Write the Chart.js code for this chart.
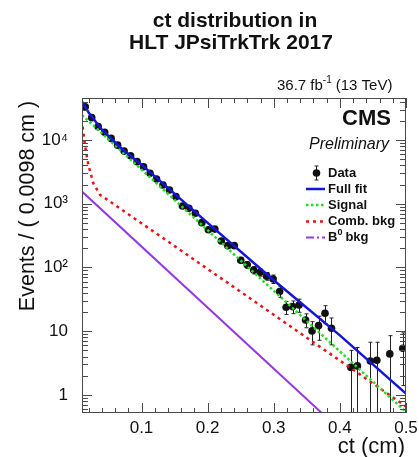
<!DOCTYPE html>
<html>
<head>
<meta charset="utf-8">
<script src="https://cdn.jsdelivr.net/npm/chart.js@4.4.0/dist/chart.umd.min.js"></script>
<style>
  html, body { margin: 0; padding: 0; background: #fff; }
  #wrap { width: 419px; height: 457px; }
</style>
</head>
<body>
<div id="wrap"><canvas id="ctChart" width="419" height="457"></canvas></div>
<script>
// bin centres (50 bins of 0.0098 cm from 0.01 to 0.5)
const binCenters = [0.0149, 0.0247, 0.0345, 0.0443, 0.0541, 0.0639, 0.0737, 0.0835, 0.0933, 0.1031,
    0.1129, 0.1227, 0.1325, 0.1423, 0.1521, 0.1619, 0.1717, 0.1815, 0.1913, 0.2011,
    0.2109, 0.2207, 0.2305, 0.2403, 0.2501, 0.2599, 0.2697, 0.2795, 0.2893, 0.2991,
    0.3089, 0.3187, 0.3285, 0.3383, 0.3481, 0.3579, 0.3677, 0.3775, 0.3873, 0.3971,
    0.4069, 0.4167, 0.4265, 0.4363, 0.4461, 0.4559, 0.4657, 0.4755, 0.4853, 0.4951];
const dataEvents = [33300, 22400, 16200, 13200, 10600, 8300, 6700, 5670, 4570, 3810,
    3000, 2440, 1970, 1640, 1290, 920, 850, 710, 505, 390,
    400, 260, 220, 220, 130, 110, 91, 84, 73, 66,
    42, 23.8, 24.3, 25.8, 15, 10.1, 12.2, 19.1, 11.1, null,
    null, 2.7, 2.85, null, 3.4, 3.5, null, 4.4, null, 5.4];
const dataErrors = [220, 180, 150, 140, 125, 110, 100, 90, 80, 75,
    65, 60, 55, 50, 45, 37, 35, 32, 27, 24,
    24, 20, 18, 18, 14, 13, 12, 11, 10, 10,
    8, 5.5, 5.5, 6, 3.7, 4, 5, 6, 5, 0,
    0, 2.3, 2.7, 0, 3.3, 3.2, 0, 4.1, 0, 4];

// fit components
const fullFitX = [0.01, 0.02, 0.04, 0.07, 0.1, 0.2, 0.3, 0.4, 0.5];
const fullFitY = [40000, 27000, 14500, 7300, 4100, 500, 63, 8.6, 1.05];
const signalX = [0.01, 0.5];
const signalY = [24600, 0.54];
const combX = [0.011, 0.0145, 0.0195, 0.0271, 0.0372, 0.0524, 0.1507, 0.5];
const combY = [16200, 8300, 4100, 2100, 1380, 1080, 214, 0.66];
const b0X = [0.01, 0.3726];
const b0Y = [1550, 0.52];

const xTickValues = [0.1, 0.2, 0.3, 0.4, 0.5];
const xTickLabels = ['0.1', '0.2', '0.3', '0.4', '0.5'];
const yTickValues = [1, 10, 100, 1000, 10000];
const yTickLabels = ['1', '10', '10\u00b2', '10\u00b3', '10\u2074'];

const FONT = '"Liberation Sans", Arial, Helvetica, sans-serif';
const FRAME = '#4a4a4a';

function toPoints(xs, ys) {
    return xs.map((x, i) => ({ x: x, y: ys[i] }));
}

// error bars under the data markers
const errorBars = {
    id: 'errorBars',
    beforeDatasetsDraw(chart) {
        const { ctx, chartArea, scales } = chart;
        ctx.save();
        ctx.beginPath();
        ctx.rect(chartArea.left, chartArea.top, chartArea.width, chartArea.height);
        ctx.clip();
        ctx.strokeStyle = '#222';
        ctx.lineWidth = 1;
        binCenters.forEach((c, i) => {
            const v = dataEvents[i];
            if (v === null) return;
            const e = dataErrors[i];
            const x = Math.round(scales.x.getPixelForValue(c)) + 0.5;
            const yHi = scales.y.getPixelForValue(v + e);
            const lo = v - e;
            const yLo = lo > 0 ? scales.y.getPixelForValue(lo) : chartArea.bottom + 5;
            ctx.beginPath();
            ctx.moveTo(x, yHi);
            ctx.lineTo(x, yLo);
            ctx.moveTo(x - 2, yHi);
            ctx.lineTo(x + 2, yHi);
            ctx.moveTo(x - 2, yLo);
            ctx.lineTo(x + 2, yLo);
            ctx.stroke();
        });
        ctx.restore();
    }
};

// ROOT style frame with inward ticks, plus all the labels
const frameAndText = {
    id: 'frameAndText',
    afterDraw(chart) {
        const { ctx, chartArea, scales } = chart;
        const L = chartArea.left, R = chartArea.right, T = chartArea.top, B = chartArea.bottom;
        ctx.save();
        ctx.strokeStyle = FRAME;
        ctx.lineWidth = 1;
        ctx.strokeRect(L + 0.5, T + 0.5, R - L - 1, B - T - 1);

        ctx.beginPath();
        // x ticks, every 0.02, long at each 0.1
        for (let k = 1; k <= 25; k++) {
            const v = k * 0.02;
            if (v < scales.x.min - 1e-9) continue;
            const x = Math.round(scales.x.getPixelForValue(v)) + 0.5;
            const len = (k % 5 === 0) ? 10 : 5;
            ctx.moveTo(x, B); ctx.lineTo(x, B - len);
            ctx.moveTo(x, T); ctx.lineTo(x, T + len);
        }
        // y ticks, 1..9 per decade
        for (let d = -1; d <= 4; d++) {
            for (let m = 1; m <= 9; m++) {
                const v = m * Math.pow(10, d);
                if (v < scales.y.min || v > scales.y.max) continue;
                const y = Math.round(scales.y.getPixelForValue(v)) + 0.5;
                const len = (m === 1) ? 10 : 6;
                ctx.moveTo(L, y); ctx.lineTo(L + len, y);
                ctx.moveTo(R, y); ctx.lineTo(R - len, y);
            }
        }
        ctx.stroke();

        ctx.fillStyle = '#111';
        ctx.textBaseline = 'middle';

        // title
        ctx.font = 'bold 21px ' + FONT;
        ctx.textAlign = 'center';
        ctx.fillText('ct distribution in', 235, 21);
        ctx.fillText('HLT JPsiTrkTrk 2017', 231, 43);

        // luminosity
        ctx.font = '15px ' + FONT;
        ctx.textAlign = 'left';
        let lx = 277;
        ctx.fillText('36.7 fb', lx, 86);
        lx += ctx.measureText('36.7 fb').width;
        ctx.font = '10px ' + FONT;
        ctx.fillText('-1', lx, 80);
        lx += ctx.measureText('-1').width + 1;
        ctx.font = '15px ' + FONT;
        ctx.fillText('(13 TeV)', lx + 3, 86);

        // CMS / Preliminary
        ctx.textAlign = 'right';
        ctx.font = 'bold 22px ' + FONT;
        ctx.fillText('CMS', 391, 119);
        ctx.font = 'italic 16px ' + FONT;
        ctx.fillText('Preliminary', 389, 145);

        // legend
        const rows = [173, 189, 205, 221.5, 237.5];
        ctx.textAlign = 'left';
        ctx.font = 'bold 13px ' + FONT;
        ctx.fillText('Data', 328, rows[0]);
        ctx.fillText('Full fit', 328, rows[1]);
        ctx.fillText('Signal', 328, rows[2]);
        ctx.fillText('Comb. bkg', 328, rows[3]);
        ctx.fillText('B', 328, rows[4]);
        let bx = 328 + ctx.measureText('B').width;
        ctx.font = 'bold 9px ' + FONT;
        ctx.fillText('0', bx, rows[4] - 5);
        bx += ctx.measureText('0').width + 2;
        ctx.font = 'bold 13px ' + FONT;
        ctx.fillText('bkg', bx + 1, rows[4]);

        ctx.strokeStyle = '#222';
        ctx.lineWidth = 1;
        ctx.beginPath();
        ctx.moveTo(316.5, rows[0] - 7); ctx.lineTo(316.5, rows[0] + 7);
        ctx.moveTo(314.5, rows[0] - 7); ctx.lineTo(318.5, rows[0] - 7);
        ctx.moveTo(314.5, rows[0] + 7); ctx.lineTo(318.5, rows[0] + 7);
        ctx.stroke();
        ctx.beginPath();
        ctx.arc(316.5, rows[0], 3.8, 0, Math.PI * 2);
        ctx.fill();

        const swatch = (y, color, dash, width) => {
            ctx.strokeStyle = color;
            ctx.lineWidth = width;
            ctx.setLineDash(dash);
            ctx.beginPath();
            ctx.moveTo(306, y); ctx.lineTo(325, y);
            ctx.stroke();
        };
        swatch(rows[1], '#1414dc', [], 2.5);
        swatch(rows[2], '#22dd22', [2.5, 2.5], 2.5);
        swatch(rows[3], '#ee1111', [3, 4], 2.5);
        swatch(rows[4], '#9438e6', [8, 3, 2, 3], 2);
        ctx.setLineDash([]);

        // axis titles
        ctx.fillStyle = '#111';
        ctx.font = '22px ' + FONT;
        ctx.textAlign = 'right';
        ctx.fillText('ct (cm)', 405, 447);
        ctx.save();
        ctx.translate(28, 206);
        ctx.rotate(-Math.PI / 2);
        ctx.textAlign = 'center';
        ctx.font = '21.5px ' + FONT;
        ctx.fillText('Events / ( 0.0098 cm )', 0, 0);
        ctx.restore();

        ctx.restore();
    }
};

const ctx = document.getElementById('ctChart').getContext('2d');
const ctChart = new Chart(ctx, {
    type: 'scatter',
    data: {
        datasets: [{
            label: 'Data',
            data: toPoints(binCenters, dataEvents).filter(p => p.y !== null),
            backgroundColor: '#111',
            borderWidth: 0,
            pointRadius: 3.8,
            order: 5
        }, {
            label: 'Full fit',
            type: 'line',
            data: toPoints(fullFitX, fullFitY),
            borderColor: '#1414dc',
            borderWidth: 2.5,
            pointRadius: 0,
            tension: 0,
            order: 1
        }, {
            label: 'Signal',
            type: 'line',
            data: toPoints(signalX, signalY),
            borderColor: '#22dd22',
            borderWidth: 2.5,
            borderDash: [2.5, 2.5],
            pointRadius: 0,
            order: 2
        }, {
            label: 'Comb. bkg',
            type: 'line',
            data: toPoints(combX, combY),
            borderColor: '#ee1111',
            borderWidth: 2.5,
            borderDash: [3, 4],
            pointRadius: 0,
            order: 3
        }, {
            label: 'B0 bkg',
            type: 'line',
            data: toPoints(b0X, b0Y),
            borderColor: '#9438e6',
            borderWidth: 2,
            pointRadius: 0,
            order: 4
        }]
    },
    options: {
        responsive: false,
        animation: false,
        layout: { padding: { left: 0, right: 13, top: 98, bottom: 0 } },
        plugins: {
            legend: { display: false },
            tooltip: { enabled: false },
            title: { display: false }
        },
        scales: {
            x: {
                type: 'linear',
                min: 0.01,
                max: 0.5,
                grid: { display: false },
                border: { display: false },
                afterFit: function(scale) { scale.height = 44; },
                afterBuildTicks: function(scale) {
                    scale.ticks = xTickValues.map(v => ({ value: v }));
                },
                ticks: {
                    color: '#111',
                    padding: -3,
                    maxRotation: 0,
                    font: { family: FONT, size: 17 },
                    callback: function(value) {
                        const i = xTickValues.findIndex(v => Math.abs(v - value) < 1e-9);
                        return i >= 0 ? xTickLabels[i] : '';
                    }
                }
            },
            y: {
                type: 'logarithmic',
                min: 0.52,
                max: 45600,
                grid: { display: false },
                border: { display: false },
                afterFit: function(scale) { scale.width = 82; },
                afterBuildTicks: function(scale) {
                    scale.ticks = yTickValues.map(v => ({ value: v }));
                },
                ticks: {
                    color: '#111',
                    padding: 6,
                    font: { family: FONT, size: 17 },
                    callback: function(value) {
                        const i = yTickValues.indexOf(value);
                        return i >= 0 ? yTickLabels[i] : '';
                    }
                }
            }
        }
    },
    plugins: [errorBars, frameAndText]
});
</script>
</body>
</html>
